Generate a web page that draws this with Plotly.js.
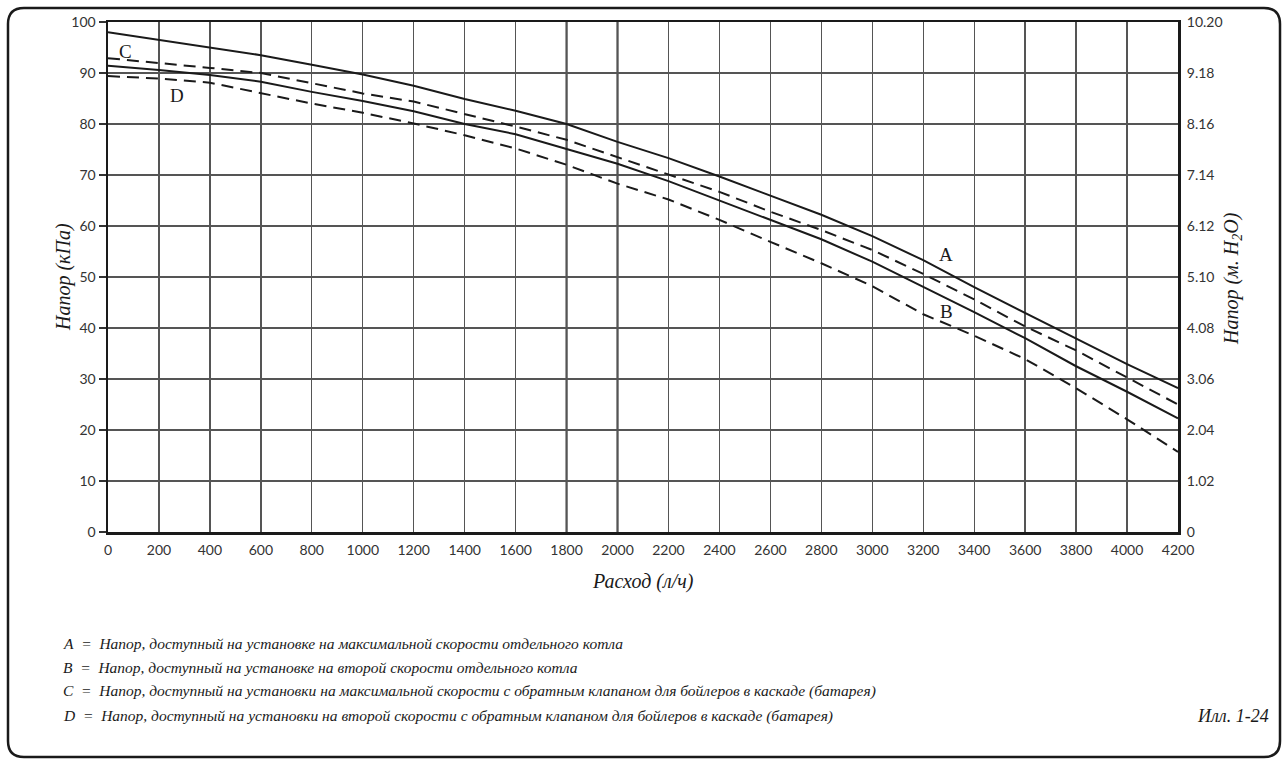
<!DOCTYPE html>
<html>
<head>
<meta charset="utf-8">
<script src="https://cdn.plot.ly/plotly-3.0.1.min.js"></script>
<style>html,body{margin:0;padding:0;background:#fff;}#chart{width:1285px;height:760px;}</style>
</head>
<body>
<div id="chart"></div>
<script>
// ---- data ----
const flow = [0,200,400,600,800,1000,1200,1400,1600,1800,2000,2200,2400,2600,2800,3000,3200,3400,3600,3800,4000,4200];
const headA = [98.0,96.5,95.0,93.5,91.6,89.7,87.5,84.9,82.6,80.0,76.5,73.3,69.7,65.9,62.2,58.0,53.3,48.0,43.0,37.9,32.9,28.2];
const headB = [91.4,90.6,89.6,88.3,86.3,84.5,82.5,80.0,78.0,75.1,72.2,68.8,65.0,61.2,57.4,53.0,48.1,43.1,38.0,32.5,27.5,22.3];
const headC = [92.9,92.0,91.0,90.0,88.0,86.0,84.4,82.0,79.5,76.9,73.5,70.2,66.7,62.8,59.2,55.3,50.6,45.6,40.3,35.6,30.3,25.0];
const headD = [89.4,88.9,88.1,86.0,84.0,82.2,80.1,77.8,75.2,72.0,68.3,65.2,61.2,56.9,52.7,48.2,42.7,38.5,33.9,28.2,22.1,15.7];
const xTicks = [0,200,400,600,800,1000,1200,1400,1600,1800,2000,2200,2400,2600,2800,3000,3200,3400,3600,3800,4000,4200];
const yTicksKPa = [0,10,20,30,40,50,60,70,80,90,100];
const yTicksM = ['0','1.02','2.04','3.06','4.08','5.10','6.12','7.14','8.16','9.18','10.20'];
const boldGridX = [1800, 2000];
const curveNames = ['A','B','C','D'];
const legendTexts = [
  'Напор, доступный на установке на максимальной скорости отдельного котла',
  'Напор, доступный на установке на второй скорости отдельного котла',
  'Напор, доступный на установки на максимальной скорости с обратным клапаном для бойлеров в каскаде (батарея)',
  'Напор, доступный на установки на второй скорости с обратным клапаном для бойлеров в каскаде (батарея)'
];
const xTitle = 'Расход (л/ч)';
const yTitleLeft = 'Напор (кПа)';
const yTitleRight = 'Напор (м. H<sub>2</sub>O)';
const figLabel = 'Илл. 1-24';

// ---- layout helpers ----
const serif = 'Liberation Serif';
const sans = 'Lato';
const W = 1285, H = 760, ml = 108, mr = 107, mt = 22, mb = 228;
const pw = W - ml - mr, ph = H - mt - mb;
const px = v => (v - ml) / pw;
const py = v => (H - mb - v) / ph;
const ink = '#1a1a1a';

const lineStyle = (dash) => ({color: ink, width: 2, dash: dash});
const traces = [
  {x: flow, y: headA, mode: 'lines', line: lineStyle('solid'), name: curveNames[0], hoverinfo: 'skip'},
  {x: flow, y: headB, mode: 'lines', line: lineStyle('solid'), name: curveNames[1], hoverinfo: 'skip'},
  {x: flow, y: headC, mode: 'lines', line: lineStyle('12px,7px'), name: curveNames[2], hoverinfo: 'skip'},
  {x: flow, y: headD, mode: 'lines', line: lineStyle('12px,7px'), name: curveNames[3], hoverinfo: 'skip'},
  {x: [flow[0]], y: [yTicksKPa[0]], yaxis: 'y2', mode: 'lines', line: {width: 0}, hoverinfo: 'skip', showlegend: false}
];

// rounded outer frame
const x0 = px(8), x1 = px(1280), yt = py(8), yb = py(757);
const rx = 16 / pw, ry = 16 / ph;
const framePath = `M ${x0 + rx} ${yt} L ${x1 - rx} ${yt} Q ${x1} ${yt} ${x1} ${yt - ry} ` +
  `L ${x1} ${yb + ry} Q ${x1} ${yb} ${x1 - rx} ${yb} L ${x0 + rx} ${yb} Q ${x0} ${yb} ${x0} ${yb + ry} ` +
  `L ${x0} ${yt - ry} Q ${x0} ${yt} ${x0 + rx} ${yt} Z`;

const shapes = [{type: 'path', xref: 'paper', yref: 'paper', path: framePath, line: {color: ink, width: 2.5}, layer: 'above'}];
boldGridX.forEach(v => shapes.push({type: 'line', xref: 'x', yref: 'paper', x0: v, x1: v, y0: 0, y1: 1,
  line: {color: '#222', width: 2}, layer: 'below'}));

const it = (size) => ({family: serif, size: size, color: ink, style: 'italic'});
const annotations = [];
// curve labels
const labelPos = [[3290, 54.4], [3290, 43.2], [70, 94.2], [272, 85.6]];
curveNames.forEach((n, i) => {
  annotations.push({x: labelPos[i][0], y: labelPos[i][1], xref: 'x', yref: 'y', xanchor: 'center', yanchor: 'middle',
    text: n, showarrow: false, font: {family: serif, size: 19, color: ink}});
});
// axis titles
annotations.push({x: 0.5, y: py(581), xref: 'paper', yref: 'paper', xanchor: 'center', yanchor: 'middle',
  text: xTitle, showarrow: false, font: it(20)});
annotations.push({x: px(63), y: py(277), xref: 'paper', yref: 'paper', xanchor: 'center', yanchor: 'middle',
  text: yTitleLeft, showarrow: false, textangle: -90, font: it(20)});
annotations.push({x: px(1232), y: py(279), xref: 'paper', yref: 'paper', xanchor: 'center', yanchor: 'middle',
  text: yTitleRight, showarrow: false, textangle: -90, font: it(20)});
// legend lines
const legY = [643, 667, 691, 716];
legendTexts.forEach((t, i) => {
  annotations.push({x: px(61), y: py(legY[i]), xref: 'paper', yref: 'paper', xanchor: 'left', yanchor: 'middle',
    showarrow: false, text: curveNames[i] + '\u00a0\u00a0=\u00a0\u00a0' + t, font: it(15.5)});
});
annotations.push({x: px(1271), y: py(716), xref: 'paper', yref: 'paper', xanchor: 'right', yanchor: 'middle',
  showarrow: false, text: figLabel, font: it(18)});

const layout = {
  width: W, height: H,
  margin: {l: ml, r: mr, t: mt, b: mb, pad: 0},
  paper_bgcolor: '#fff', plot_bgcolor: '#fff',
  showlegend: false,
  xaxis: {range: [0, 4200], tickvals: xTicks, ticktext: xTicks.map(String), showgrid: true, gridcolor: '#555', gridwidth: 1.3,
    zeroline: false, showline: true, mirror: true, linecolor: ink, linewidth: 2.5, ticks: '', ticklen: 0,
    ticklabelstandoff: 4, tickfont: {family: sans, size: 14, color: '#333'}, fixedrange: true},
  yaxis: {range: [0, 100], tickvals: yTicksKPa, ticktext: yTicksKPa.map(String), showgrid: true, gridcolor: '#555', gridwidth: 1.3,
    zeroline: false, showline: true, mirror: true, linecolor: ink, linewidth: 2.5, ticks: 'outside', ticklen: 7,
    tickcolor: '#333', tickwidth: 1.2, tickfont: {family: sans, size: 14, color: '#333'}, fixedrange: true},
  yaxis2: {overlaying: 'y', side: 'right', range: [0, 100], tickvals: yTicksKPa, ticktext: yTicksM, showgrid: false,
    zeroline: false, showline: false, ticks: 'outside', ticklen: 5, tickcolor: 'rgba(0,0,0,0)',
    tickfont: {family: sans, size: 14, color: '#333'}, fixedrange: true},
  shapes: shapes,
  annotations: annotations
};

Plotly.newPlot('chart', traces, layout, {displayModeBar: false, staticPlot: true});
</script>
</body>
</html>
